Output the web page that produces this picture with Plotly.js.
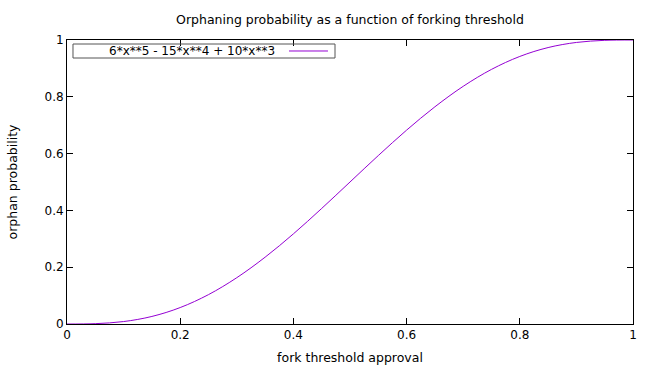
<!DOCTYPE html>
<html>
<head>
<meta charset="utf-8">
<script src="https://cdn.plot.ly/plotly-3.0.1.min.js"></script>
<style>html,body{margin:0;padding:0;background:#fff;}#chart{width:657px;height:366px;}</style>
</head>
<body>
<div id="chart"></div>
<script>
// fork threshold approval (x) and orphan probability (y)
const xValues = [0, 0.05, 0.1, 0.15, 0.2, 0.25, 0.3, 0.35, 0.4, 0.45, 0.5, 0.55, 0.6, 0.65, 0.7, 0.75, 0.8, 0.85, 0.9, 0.95, 1];
const yValues = [0, 0.0012, 0.0086, 0.0266, 0.0579, 0.1035, 0.1631, 0.2352, 0.3174, 0.4069, 0.5, 0.5931, 0.6826, 0.7648, 0.8369, 0.8965, 0.9421, 0.9734, 0.9914, 0.9988, 1];
const seriesName = "6*x**5 - 15*x**4 + 10*x**3";
const xTickVals = [0, 0.2, 0.4, 0.6, 0.8, 1];
const xTickText = ["0", "0.2", "0.4", "0.6", "0.8", "1"];
const yTickVals = [0, 0.2, 0.4, 0.6, 0.8, 1];
const yTickText = ["0", "0.2", "0.4", "0.6", "0.8", "1"];

const font = {family: "DejaVu Sans, sans-serif", size: 12, color: "#000"};
const titleFont = {family: "DejaVu Sans, sans-serif", size: 12.5, color: "#000"};
const trace = {
  x: xValues, y: yValues, type: "scatter", mode: "lines",
  name: seriesName,
  line: {color: "#9400D3", width: 1, shape: "spline", smoothing: 1},
  hoverinfo: "skip"
};
const axisCommon = {
  showgrid: false, zeroline: false, showline: true, linecolor: "#000", linewidth: 1,
  mirror: "ticks", ticks: "inside", ticklen: 6, tickcolor: "#000", tickwidth: 1,
  tickfont: font
};
const layout = {
  width: 657, height: 366,
  margin: {l: 67, r: 24, t: 40, b: 42},
  paper_bgcolor: "#fff", plot_bgcolor: "#fff",
  font: font,
  showlegend: false,
  title: {text: "Orphaning probability as a function of forking threshold", font: titleFont,
          x: 0.5, xref: "paper", xanchor: "center", y: 1 - 20/366, yref: "container", yanchor: "middle"},
  xaxis: Object.assign({}, axisCommon, {range: [0, 1], tickvals: xTickVals, ticktext: xTickText,
          title: {text: "fork threshold approval", font: titleFont, standoff: 11}}),
  yaxis: Object.assign({}, axisCommon, {range: [0, 1], tickvals: yTickVals, ticktext: yTickText,
          title: {text: "orphan probability", font: titleFont, standoff: 24}}),
  shapes: [
    {type: "rect", xref: "paper", yref: "paper", x0: 0.0106, x1: 0.4735, y0: 0.9366, y1: 0.9859,
     line: {color: "#555", width: 1}, fillcolor: "rgba(0,0,0,0)"},
    {type: "line", xref: "paper", yref: "paper", x0: 0.3922, x1: 0.4611, y0: 0.9613, y1: 0.9613,
     line: {color: "#9400D3", width: 1}}
  ],
  annotations: [
    {text: seriesName, xref: "paper", yref: "paper", x: 0.371, y: 0.9613,
     xanchor: "right", yanchor: "middle", showarrow: false, font: font}
  ]
};
Plotly.newPlot("chart", [trace], layout, {staticPlot: true, displayModeBar: false});
</script>
</body>
</html>
